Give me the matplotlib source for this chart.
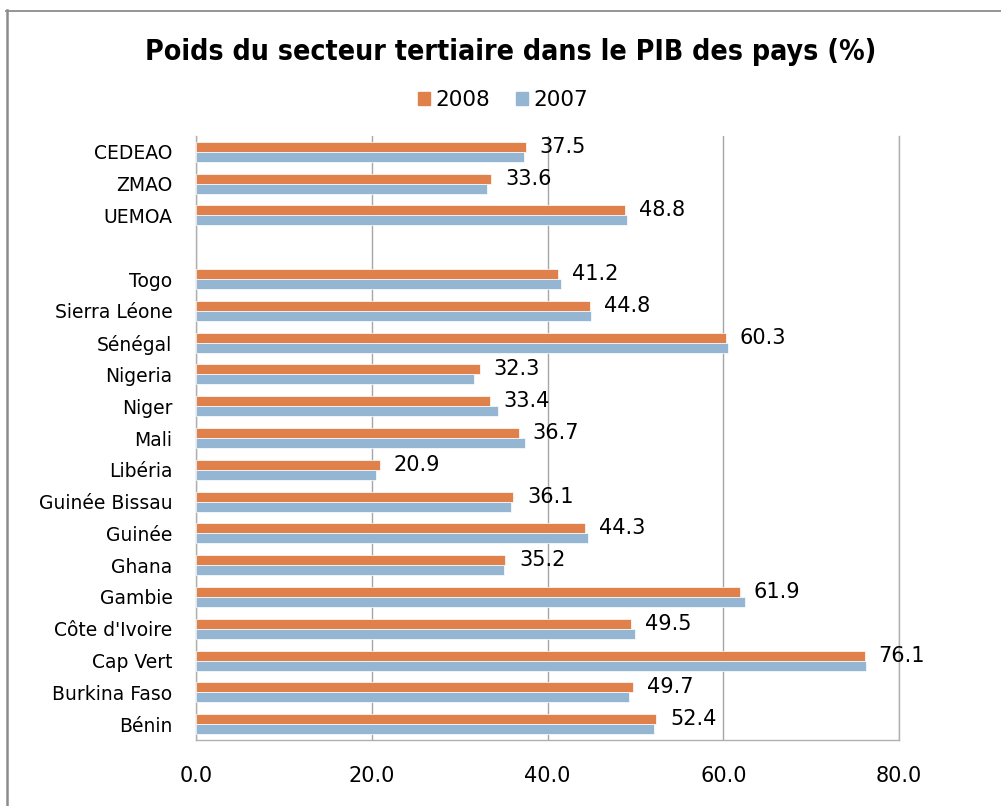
import matplotlib
matplotlib.use("Agg")
import matplotlib.pyplot as plt
from matplotlib.lines import Line2D
import numpy as np

categories = ["Bénin", "Burkina Faso", "Cap Vert", "Côte d'Ivoire", "Gambie", "Ghana",
              "Guinée", "Guinée Bissau", "Libéria", "Mali", "Niger", "Nigeria",
              "Sénégal", "Sierra Léone", "Togo", "", "UEMOA", "ZMAO", "CEDEAO"]
v2008 = [52.4, 49.7, 76.1, 49.5, 61.9, 35.2, 44.3, 36.1, 20.9, 36.7, 33.4, 32.3,
         60.3, 44.8, 41.2, None, 48.8, 33.6, 37.5]
v2007 = [52.1, 49.3, 76.3, 50.0, 62.5, 35.0, 44.6, 35.8, 20.5, 37.4, 34.4, 31.6,
         60.5, 45.0, 41.5, None, 49.1, 33.1, 37.3]
xticks = [0, 20, 40, 60, 80]
title = "Poids du secteur tertiaire dans le PIB des pays (%)"

c08 = "#E0804A"
c07 = "#94B6D3"
W, H = 1001, 806
fig = plt.figure(figsize=(W / 100, H / 100), dpi=100)
ax = fig.add_axes([196 / W, 1 - 740 / H, (899 - 196) / W, (740 - 136) / H])

y = np.arange(len(categories))
h = 0.315
for i, (a, b) in enumerate(zip(v2008, v2007)):
    if a is None:
        continue
    ax.barh(y[i] + h / 2, a, height=h, color=c08, edgecolor="white", linewidth=0.5, zorder=3)
    ax.barh(y[i] - h / 2, b, height=h, color=c07, edgecolor="white", linewidth=0.5, zorder=3)
    ax.annotate(f"{a:.1f}", xy=(a, y[i] + h / 2), xytext=(14, 0), textcoords="offset pixels",
                ha="left", va="center", fontsize=15, color="black")

ax.set_xlim(0, 80)
ax.set_ylim(-0.5, len(categories) - 0.5)
ax.set_yticks(y)
ax.set_yticklabels(categories, fontsize=13.5)
ax.set_xticks(xticks)
ax.set_xticklabels([f"{t:.1f}" for t in xticks], fontsize=15)
ax.tick_params(axis="y", length=0, pad=17)
ax.tick_params(axis="x", length=0, pad=19)
ax.grid(axis="x", color="#a6a6a6", linewidth=1, zorder=0)
ax.spines["top"].set_visible(False)
for s in ["left", "bottom", "right"]:
    ax.spines[s].set_color("#b0b0b0")
    ax.spines[s].set_linewidth(1)

fig.text(511 / W, 1 - 52 / H, title, ha="center", va="center", fontsize=20.4,
         fontweight="bold", fontstretch="condensed", family="DejaVu Sans")

handles = [plt.Rectangle((0, 0), 1, 1, color=c08), plt.Rectangle((0, 0), 1, 1, color=c07)]
fig.legend(handles, ["2008", "2007"], loc="center", bbox_to_anchor=(503 / W, 1 - 100 / H),
           ncol=2, frameon=False, fontsize=15.5, handlelength=0.55, handleheight=0.55,
           handletextpad=0.25, columnspacing=1.2)

fig.add_artist(Line2D([6 / W, 1.0], [1 - 10.5 / H, 1 - 10.5 / H], transform=fig.transFigure,
                      color="#8c8c8c", linewidth=1.3))
fig.add_artist(Line2D([7 / W, 7 / W], [0, 1 - 10 / H], transform=fig.transFigure,
                      color="#8c8c8c", linewidth=1.8))

fig.savefig("out.png", dpi=100)
